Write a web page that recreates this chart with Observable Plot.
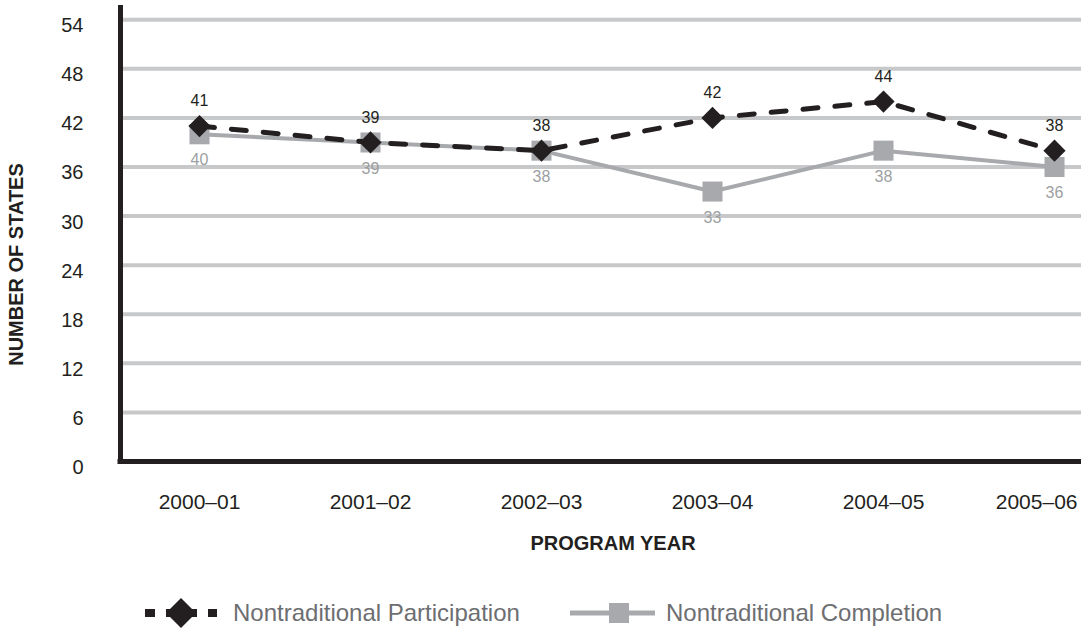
<!DOCTYPE html>
<html>
<head>
<meta charset="utf-8">
<script src="https://cdn.jsdelivr.net/npm/d3@7"></script>
<script src="https://cdn.jsdelivr.net/npm/@observablehq/plot@0.6"></script>
<style>
  html, body { margin: 0; padding: 0; background: #fff; }
  #wrap { position: relative; width: 1081px; height: 630px; overflow: hidden; font-family: "Liberation Sans", Arial, sans-serif; }
  #wrap svg.plot { display: block; }
  .leg { position: absolute; top: 597px; height: 32px; }
  .leg svg { position: absolute; top: 0; }
  .leg span { position: absolute; top: 0; line-height: 32px; font-size: 24px; color: #6d6e71; white-space: nowrap; }
</style>
</head>
<body>
<div id="wrap"></div>
<script>
const years = ["2000–01", "2001–02", "2002–03", "2003–04", "2004–05", "2005–06"];
const participation = [41, 39, 38, 42, 44, 38];
const completion = [40, 39, 38, 33, 38, 36];
const yTicks = [0, 6, 12, 18, 24, 30, 36, 42, 48, 54];
const seriesNames = ["Nontraditional Participation", "Nontraditional Completion"];

const rows = years.map((year, i) => ({ year, participation: participation[i], completion: completion[i] }));

const ink = "#231f20";
const grey = "#a7a9ac";

const chart = Plot.plot({
  width: 1081,
  height: 580,
  marginLeft: 120,
  marginRight: 0,
  marginTop: 7,
  marginBottom: 119,
  style: { fontFamily: "'Liberation Sans', Arial, sans-serif", background: "white", color: ink },
  x: { type: "point", domain: years, range: [197, 1056], padding: 0, axis: null },
  y: { domain: [0, 55.5] },
  marks: [
    Plot.ruleY(yTicks.filter(d => d > 0), { stroke: "#c7c8ca", strokeWidth: 4 }),
    Plot.axisY(yTicks, { tickSize: 0, tickPadding: 37, fontSize: 20, dy: 6, label: null, fill: ink }),
    Plot.frame({ anchor: "left", stroke: ink, strokeWidth: 5 }),
    Plot.ruleY([0], { stroke: ink, strokeWidth: 5, insetLeft: -2.5 }),
    Plot.text(years.slice(0, 5), { x: d => d, frameAnchor: "bottom", dy: 47, fontSize: 21, fill: ink }),
    Plot.text(years.slice(5), { x: d => d, frameAnchor: "bottom", dy: 47, dx: 23, textAnchor: "end", fontSize: 21, fill: ink }),
    Plot.text(["PROGRAM YEAR"], { frameAnchor: "bottom", dy: 88, dx: 12, fontSize: 20, fontWeight: "bold", fill: ink }),
    Plot.text(["NUMBER OF STATES"], { frameAnchor: "left", textAnchor: "middle", dx: -104, dy: 30, rotate: -90, fontSize: 20, fontWeight: "bold", fill: ink }),
    Plot.line(rows, { x: "year", y: "completion", stroke: grey, strokeWidth: 4 }),
    Plot.dot(rows, { x: "year", y: "completion", symbol: "square", r: 11.3, fill: grey }),
    Plot.line(rows, { x: "year", y: "participation", stroke: ink, strokeWidth: 5, strokeDasharray: "15,17" }),
    Plot.dot(rows, { x: "year", y: "participation", symbol: "diamond2", r: 10, fill: ink }),
    Plot.text(rows, { x: "year", y: "participation", text: d => String(d.participation), dy: -25, fontSize: 16, fill: ink }),
    Plot.text(rows, { x: "year", y: "completion", text: d => String(d.completion), dy: 26, fontSize: 16, fill: "#9d9fa2" })
  ]
});

const wrap = document.getElementById("wrap");
wrap.appendChild(chart);

const leg = document.createElement("div");
leg.className = "leg";
leg.style.left = "0px";
leg.style.width = "1081px";
leg.innerHTML = `
  <svg style="left:143px" width="78" height="32">
    <line x1="2" y1="16" x2="74" y2="16" stroke="${ink}" stroke-width="8" stroke-dasharray="10 11"/>
    <polygon points="38,1 53,16 38,31 23,16" fill="${ink}"/>
  </svg>
  <span style="left:233px">${seriesNames[0]}</span>
  <svg style="left:568px" width="90" height="32">
    <line x1="2" y1="16" x2="87" y2="16" stroke="${grey}" stroke-width="5"/>
    <rect x="41" y="6" width="20" height="20" fill="${grey}"/>
  </svg>
  <span style="left:666px">${seriesNames[1]}</span>
`;
wrap.appendChild(leg);
</script>
</body>
</html>
